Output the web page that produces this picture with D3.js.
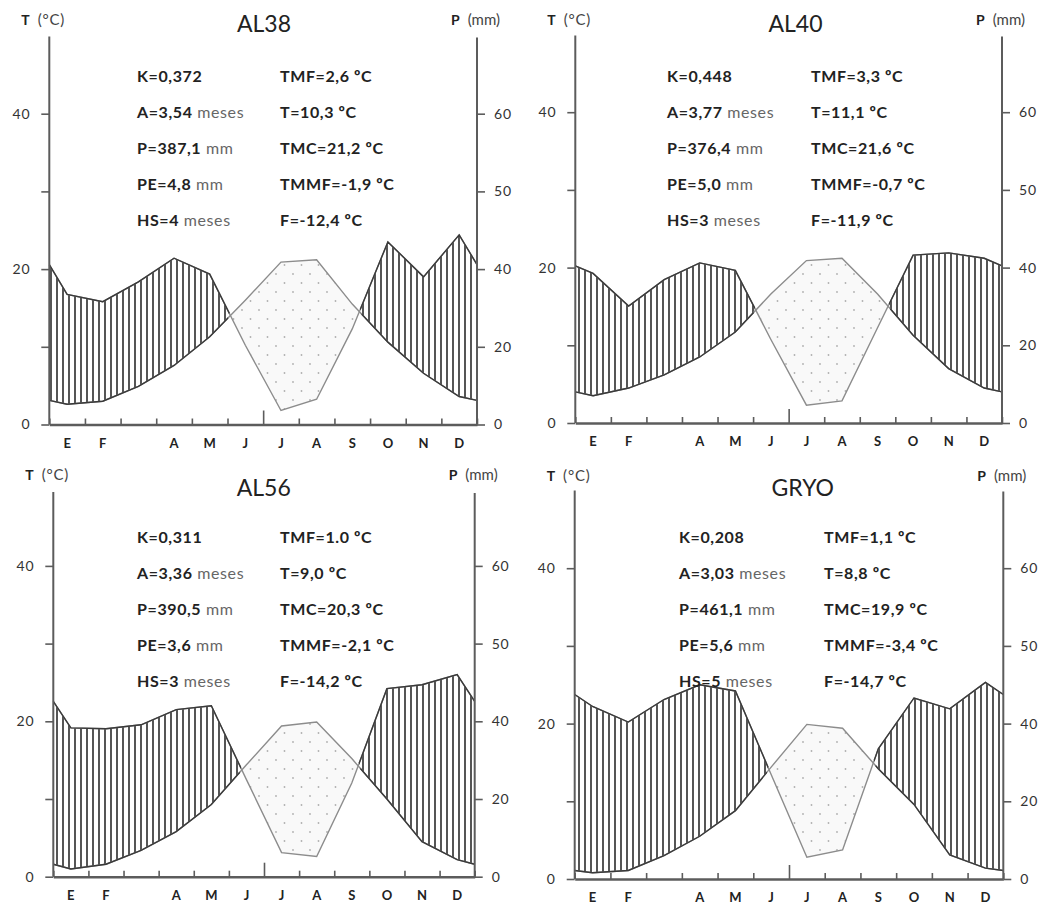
<!DOCTYPE html>
<html>
<head>
<meta charset="utf-8">
<script src="https://cdn.jsdelivr.net/npm/d3@7"></script>
<style>
  body { margin: 0; background: #fff; }
  text { font-family: Lato, "Open Sans", sans-serif; }
</style>
</head>
<body>
<svg id="chart" width="1044" height="909"></svg>
<script>
// month initials (March has no label in the original)
var months = ["E", "F", "", "A", "M", "J", "J", "A", "S", "O", "N", "D"];
var stations = ["AL38", "AL40", "AL56", "GRYO"];

// monthly mean temperature (ºC)
var tempAL38 = [2.6, 3.0, 4.9, 7.6, 11.3, 16.0, 20.9, 21.2, 15.5, 10.6, 6.6, 3.6];
var tempAL40 = [3.5, 4.5, 6.2, 8.5, 11.7, 16.6, 20.9, 21.2, 16.6, 11.3, 7.0, 4.5];
var tempAL56 = [1.0, 1.6, 3.4, 5.8, 9.3, 14.4, 19.4, 19.9, 15.2, 10.0, 4.5, 2.2];
var tempGRYO = [0.8, 1.1, 3.0, 5.5, 8.8, 14.4, 19.9, 19.4, 14.2, 9.6, 3.1, 1.4];

// monthly precipitation (mm)
var precAL38 = [33.5, 31.6, 36.7, 41.4, 38.7, 20.4, 3.6, 6.5, 24.6, 43.5, 38.0, 44.4];
var precAL40 = [38.5, 30.1, 36.9, 40.6, 39.3, 21.5, 4.6, 5.7, 24.5, 41.6, 41.9, 41.2];
var precAL56 = [38.3, 38.1, 39.1, 41.5, 42.0, 25.0, 6.2, 5.2, 24.1, 44.2, 44.7, 46.0];
var precGRYO = [42.2, 40.2, 43.1, 45.0, 44.2, 26.9, 5.6, 7.5, 33.5, 43.3, 41.9, 45.3];

// climate indices printed in each diagram (left column, right column)
var statsAL38 = [["K=0,372", "TMF=2,6 ºC"], ["A=3,54 meses", "T=10,3 ºC"], ["P=387,1 mm", "TMC=21,2 ºC"], ["PE=4,8 mm", "TMMF=-1,9 ºC"], ["HS=4 meses", "F=-12,4 ºC"]];
var statsAL40 = [["K=0,448", "TMF=3,3 ºC"], ["A=3,77 meses", "T=11,1 ºC"], ["P=376,4 mm", "TMC=21,6 ºC"], ["PE=5,0 mm", "TMMF=-0,7 ºC"], ["HS=3 meses", "F=-11,9 ºC"]];
var statsAL56 = [["K=0,311", "TMF=1.0 ºC"], ["A=3,36 meses", "T=9,0 ºC"], ["P=390,5 mm", "TMC=20,3 ºC"], ["PE=3,6 mm", "TMMF=-2,1 ºC"], ["HS=3 meses", "F=-14,2 ºC"]];
var statsGRYO = [["K=0,208", "TMF=1,1 ºC"], ["A=3,03 meses", "T=8,8 ºC"], ["P=461,1 mm", "TMC=19,9 ºC"], ["PE=5,6 mm", "TMMF=-3,4 ºC"], ["HS=5 meses", "F=-14,7 ºC"]];

var tTicks = [0, 10, 20, 30, 40];
var pTicks = [0, 20, 40, 50, 60];

var temps = [tempAL38, tempAL40, tempAL56, tempGRYO],
    precs = [precAL38, precAL40, precAL56, precGRYO],
    stats = [statsAL38, statsAL40, statsAL56, statsGRYO];

// where each diagram sits on the page
var layout = [
  { x0: 49.3, x1: 477,    base: 424.5, top: 36.5,  titleX: 264,   titleY: 31.5,  cols: [137, 280], textY: 81.7, nameY: 25 },
  { x0: 575.3, x1: 1002,  base: 423,   top: 35.5,  titleX: 795.5, titleY: 31.5,  cols: [667, 811], textY: 81.7, nameY: 25 },
  { x0: 53.3, x1: 474.7,  base: 876.7, top: 492,   titleX: 263.7, titleY: 495.5, cols: [137, 280], textY: 543,  nameY: 480 },
  { x0: 574.7, x1: 1003.3, base: 879,  top: 490.5, titleX: 802.8, titleY: 495.5, cols: [679, 824], textY: 543,  nameY: 481 }
];
var unit = 7.77,   // px per ºC
    rowGap = 36;

var svg = d3.select("#chart");
svg.append("rect").attr("width", 1044).attr("height", 909).attr("fill", "#fff");
var defs = svg.append("defs");

// vertical hatching for the humid period
var hatch = defs.append("pattern")
    .attr("id", "hatch")
    .attr("patternUnits", "userSpaceOnUse")
    .attr("width", 6).attr("height", 10);
hatch.append("line")
    .attr("x1", 3).attr("x2", 3).attr("y1", 0).attr("y2", 10)
    .attr("stroke", "#2a2a2a").attr("stroke-width", 1.6);

// dotted fill for the dry period
var dots = defs.append("pattern")
    .attr("id", "dots")
    .attr("patternUnits", "userSpaceOnUse")
    .attr("width", 17).attr("height", 18);
dots.append("rect").attr("width", 17).attr("height", 18).attr("fill", "#f9f9f9");
dots.selectAll("circle")
    .data([[4, 4], [12.5, 13]])
    .enter().append("circle")
    .attr("cx", function(d) { return d[0] })
    .attr("cy", function(d) { return d[1] })
    .attr("r", 0.9)
    .attr("fill", "#b0b0b0");

stations.forEach(function(name, k) {
  var L = layout[k];
  var g = svg.append("g").attr("class", "panel");

  var x = d3.scaleLinear().domain([0, 12]).range([L.x0, L.x1]);
  var yT = d3.scaleLinear().domain([0, 40]).range([L.base, L.base - 40 * unit]);
  var yP = d3.scaleLinear().domain([0, 40, 60]).range([L.base, yT(20), yT(40)]);

  var t = temps[k], p = precs[k];
  var pts = t.map(function(v, i) { return { x: x(i + 0.5), t: yT(v), p: yP(p[i]) } });
  // the year is closed at both axes with the Dec/Jan midpoint
  var edgeT = (yT(t[0]) + yT(t[11])) / 2,
      edgeP = (yP(p[0]) + yP(p[11])) / 2;
  pts.unshift({ x: x(0), t: edgeT, p: edgeP });
  pts.push({ x: x(12), t: edgeT, p: edgeP });

  var lineT = d3.line().x(function(d) { return d.x }).y(function(d) { return d.t });
  var lineP = d3.line().x(function(d) { return d.x }).y(function(d) { return d.p });
  var aboveT = d3.area().x(function(d) { return d.x }).y0(L.top - 5).y1(function(d) { return d.t });
  var belowT = d3.area().x(function(d) { return d.x }).y0(function(d) { return d.t }).y1(L.base + 5);
  var humid = d3.area().x(function(d) { return d.x }).y0(L.base).y1(function(d) { return d.p });
  var dry = d3.area().x(function(d) { return d.x }).y0(L.top - 5).y1(function(d) { return d.p });

  defs.append("clipPath").attr("id", "above" + k).append("path").attr("d", aboveT(pts));
  defs.append("clipPath").attr("id", "below" + k).append("path").attr("d", belowT(pts));
  defs.append("clipPath").attr("id", "belowUp" + k).append("path")
      .attr("d", belowT(pts)).attr("transform", "translate(0,-3)");

  var mask = defs.append("mask").attr("id", "dark" + k)
      .attr("maskUnits", "userSpaceOnUse")
      .attr("x", 0).attr("y", 0).attr("width", 1044).attr("height", 909);
  mask.append("rect").attr("width", 1044).attr("height", 909).attr("fill", "#fff");
  mask.append("g").attr("clip-path", "url(#belowUp" + k + ")")
      .append("path").attr("d", dry(pts))
      .attr("fill", "#000").attr("stroke", "#000").attr("stroke-width", 6);

  g.append("path").attr("d", humid(pts))
      .attr("fill", "url(#hatch)")
      .attr("clip-path", "url(#above" + k + ")");
  g.append("path").attr("d", dry(pts))
      .attr("fill", "url(#dots)")
      .attr("clip-path", "url(#below" + k + ")");

  // grey outline everywhere, dark where the period is humid
  [lineT, lineP].forEach(function(fn) {
    g.append("path").attr("d", fn(pts))
        .attr("fill", "none").attr("stroke", "#8c8c8c").attr("stroke-width", 1.4);
  });
  var darkG = g.append("g").attr("mask", "url(#dark" + k + ")");
  [lineT, lineP].forEach(function(fn) {
    darkG.append("path").attr("d", fn(pts))
        .attr("fill", "none").attr("stroke", "#3a3a3a").attr("stroke-width", 1.4);
  });

  // axes
  var axisColor = "#5c5c5c";
  var left = g.append("g")
      .attr("transform", "translate(" + L.x0 + ",0)")
      .call(d3.axisLeft(yT).tickValues(tTicks).tickSize(8).tickPadding(11).tickSizeOuter(0)
        .tickFormat(function(d) { return d % 20 === 0 ? d : "" }));
  var right = g.append("g")
      .attr("transform", "translate(" + L.x1 + ",0)")
      .call(d3.axisRight(yP).tickValues(pTicks).tickSize(8).tickPadding(9).tickSizeOuter(0));
  var bottom = g.append("g")
      .attr("transform", "translate(0," + L.base + ")")
      .call(d3.axisBottom(x).tickValues(d3.range(13)).tickSize(-6).tickSizeOuter(0).tickFormat(""));
  bottom.selectAll(".tick line").filter(function(d) { return d === 6 }).attr("y2", -14);

  [left, right].forEach(function(a) {
    a.select(".domain").remove();
    a.selectAll(".tick line").attr("stroke", axisColor).attr("stroke-width", 1.6);
    a.selectAll(".tick text")
        .attr("fill", "#333").attr("font-size", 14).attr("letter-spacing", 0.8)
        .attr("font-family", "Lato, 'Open Sans', sans-serif");
  });
  bottom.select(".domain").attr("stroke", axisColor).attr("stroke-width", 2.4);
  bottom.selectAll(".tick line").attr("stroke", axisColor).attr("stroke-width", 1.6);

  g.append("line").attr("x1", L.x0).attr("x2", L.x0).attr("y1", L.base).attr("y2", L.top)
      .attr("stroke", axisColor).attr("stroke-width", 2);
  g.append("line").attr("x1", L.x1).attr("x2", L.x1).attr("y1", L.base).attr("y2", L.top + 1)
      .attr("stroke", axisColor).attr("stroke-width", 2);

  g.selectAll(".month")
      .data(months)
      .enter().append("text")
      .attr("class", "month")
      .attr("x", function(_, i) { return x(i + 0.5) })
      .attr("y", L.base + 23)
      .attr("text-anchor", "middle")
      .attr("font-size", 13).attr("font-weight", "bold").attr("fill", "#222")
      .text(function(d) { return d });

  // axis names
  var tName = g.append("text").attr("x", L.x0 - 28).attr("y", L.nameY).attr("font-size", 14).attr("fill", "#222");
  tName.append("tspan").attr("font-weight", "bold").text("T");
  tName.append("tspan").attr("dx", 8).attr("fill", "#444").attr("font-size", 15).attr("letter-spacing", 0.8).text("(°C)");
  var pName = g.append("text").attr("x", L.x1 - 26).attr("y", L.nameY).attr("font-size", 14).attr("fill", "#222");
  pName.append("tspan").attr("font-weight", "bold").text("P");
  pName.append("tspan").attr("dx", 8).attr("fill", "#444").attr("font-size", 15).text("(mm)");

  g.append("text")
      .attr("x", L.titleX).attr("y", L.titleY)
      .attr("text-anchor", "middle")
      .attr("font-size", 23).attr("fill", "#222")
      .text(name);

  stats[k].forEach(function(row, r) {
    row.forEach(function(s, c) {
      var txt = g.append("text")
          .attr("x", L.cols[c]).attr("y", L.textY + r * rowGap)
          .attr("font-size", 16).attr("letter-spacing", 0.6).attr("fill", "#222");
      var m = s.match(/^(.*?)( (meses|mm))?$/);
      txt.append("tspan").attr("font-weight", "bold").text(m[1]);
      if (m[2]) txt.append("tspan").attr("fill", "#666").text(m[2]);
    });
  });
});
</script>
</body>
</html>
